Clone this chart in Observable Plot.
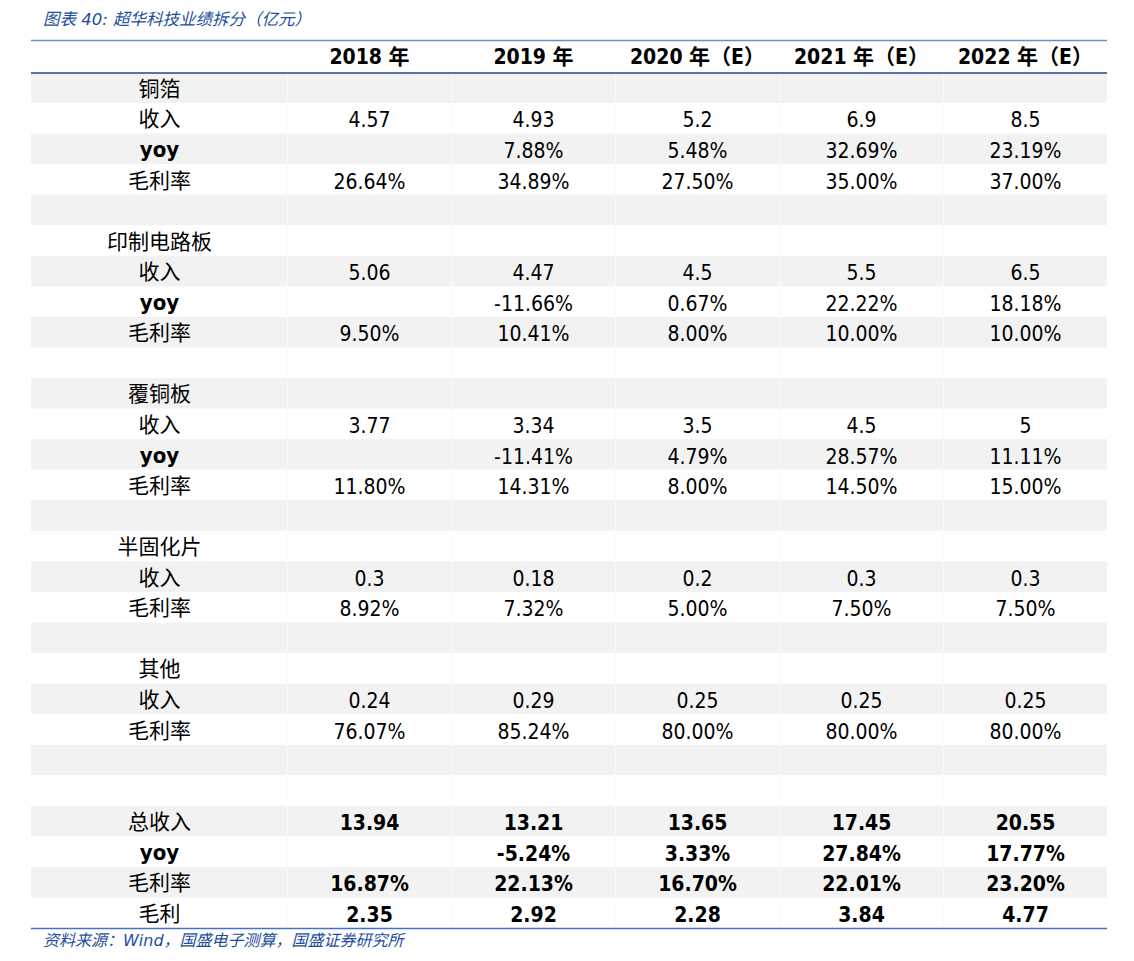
<!DOCTYPE html>
<html><head><meta charset="utf-8">
<script src="https://cdn.jsdelivr.net/npm/d3@7"></script>
<script src="https://cdn.jsdelivr.net/npm/@observablehq/plot@0.6"></script>
<style>
body{margin:0;background:#fff;}
#title{height:30px;box-sizing:border-box;padding:10px 0 0 43px;line-height:20px;font-style:italic;font-size:16.5px;font-family:"DejaVu Sans","Noto Sans CJK SC",sans-serif;color:#1f4e9e;white-space:nowrap;}
#chart svg{display:block;}
#caption{box-sizing:border-box;padding:0 0 0 43px;line-height:18px;font-style:italic;font-size:16px;font-family:"DejaVu Sans","Noto Sans CJK SC",sans-serif;color:#1f4e9e;white-space:nowrap;}
</style></head><body>
<div id="title">图表 40: 超华科技业绩拆分（亿元）</div>
<div id="chart"></div>
<div id="caption">资料来源：Wind，国盛电子测算，国盛证券研究所</div>
<script>
// ---- data ----
const years = ["2018 年", "2019 年", "2020 年（E）", "2021 年（E）", "2022 年（E）"];
const segments = ["铜箔", "印制电路板", "覆铜板", "半固化片", "其他"];
const rowLabels = {revenue: "收入", yoy: "yoy", margin: "毛利率", total: "总收入", profit: "毛利"};

const copperFoilRevenue = [4.57, 4.93, 5.2, 6.9, 8.5];
const copperFoilYoy = [null, 7.88, 5.48, 32.69, 23.19];
const copperFoilMargin = [26.64, 34.89, 27.50, 35.00, 37.00];

const pcbRevenue = [5.06, 4.47, 4.5, 5.5, 6.5];
const pcbYoy = [null, -11.66, 0.67, 22.22, 18.18];
const pcbMargin = [9.50, 10.41, 8.00, 10.00, 10.00];

const cclRevenue = [3.77, 3.34, 3.5, 4.5, 5];
const cclYoy = [null, -11.41, 4.79, 28.57, 11.11];
const cclMargin = [11.80, 14.31, 8.00, 14.50, 15.00];

const prepregRevenue = [0.3, 0.18, 0.2, 0.3, 0.3];
const prepregMargin = [8.92, 7.32, 5.00, 7.50, 7.50];

const otherRevenue = [0.24, 0.29, 0.25, 0.25, 0.25];
const otherMargin = [76.07, 85.24, 80.00, 80.00, 80.00];

const totalRevenue = [13.94, 13.21, 13.65, 17.45, 20.55];
const totalYoy = [null, -5.24, 3.33, 27.84, 17.77];
const totalMargin = [16.87, 22.13, 16.70, 22.01, 23.20];
const grossProfit = [2.35, 2.92, 2.28, 3.84, 4.77];

// ---- table layout ----
const labelUnits = 256 / 164;           // label column width in data-column units
const totalUnits = labelUnits + years.length;
const headerTop = -0.06;                // header row is slightly taller than body rows
const pct = v => v == null ? "" : v.toFixed(2) + "%";
const num = v => v == null ? "" : String(v);
const fix2 = v => v == null ? "" : v.toFixed(2);

const rows = [];
function addRow(label, values, opts = {}) { rows.push({label, values, labelBold: !!opts.labelBold, bold: !!opts.bold}); }
const segData = [
  [copperFoilRevenue, copperFoilYoy, copperFoilMargin],
  [pcbRevenue, pcbYoy, pcbMargin],
  [cclRevenue, cclYoy, cclMargin],
  [prepregRevenue, null, prepregMargin],
  [otherRevenue, null, otherMargin]
];
segments.forEach((s, i) => {
  const [rev, yoy, mar] = segData[i];
  addRow(s, []);
  addRow(rowLabels.revenue, rev.map(num));
  if (yoy) addRow(rowLabels.yoy, yoy.map(pct), {labelBold: true});
  addRow(rowLabels.margin, mar.map(pct));
  addRow("", []);
});
addRow("", []);
addRow(rowLabels.total, totalRevenue.map(fix2), {bold: true});
addRow(rowLabels.yoy, totalYoy.map(pct), {bold: true, labelBold: true});
addRow(rowLabels.margin, totalMargin.map(pct), {bold: true});
addRow(rowLabels.profit, grossProfit.map(fix2), {bold: true});

const nRows = rows.length + 1; // + header
const rowItems = rows.map((r, i) => ({...r, row: i + 1}));
const shaded = rowItems.filter(r => r.row % 2 === 1);

const cells = [];
rowItems.forEach(r => r.values.forEach((t, j) => { if (t) cells.push({row: r.row, x: labelUnits + j + 0.5, text: t, bold: r.bold}); }));
const headerCells = years.map((y, j) => ({x: labelUnits + j + 0.5, text: y}));
const labelCells = rowItems.filter(r => r.label).map(r => ({row: r.row, x: labelUnits / 2, text: r.label, bold: r.labelBold}));
const colEdges = d3.range(years.length).map(j => labelUnits + j);

const latin = '"DejaVu Sans Condensed", "Noto Sans CJK SC", sans-serif';
const cjk = '"Noto Sans CJK SC", sans-serif';

const chart = Plot.plot({
  width: 1134,
  height: 902,
  marginLeft: 31,
  marginRight: 27,
  marginTop: 10,
  marginBottom: 4,
  x: {domain: [0, totalUnits], axis: null},
  y: {domain: [headerTop, nRows], range: [10, 898], axis: null},
  marks: [
    Plot.rect(shaded, {x1: 0, x2: totalUnits, y1: d => d.row, y2: d => d.row + 1, fill: "#f2f2f2"}),
    Plot.ruleX(colEdges, {x: d => d, y1: 1, y2: nRows, stroke: "#f9f9f9", strokeWidth: 1}),
    Plot.text(headerCells, {x: "x", y: (headerTop + 1) / 2, text: "text", fontFamily: latin, fontWeight: "bold", fontSize: 21, fill: "#000", dy: 1}),
    Plot.text(cells.filter(d => !d.bold), {x: "x", y: d => d.row + 0.5, text: "text", fontFamily: latin, fontSize: 21, fill: "#000", dy: 2}),
    Plot.text(cells.filter(d => d.bold), {x: "x", y: d => d.row + 0.5, text: "text", fontFamily: latin, fontWeight: "bold", fontSize: 21, fill: "#000", dy: 2}),
    Plot.text(labelCells.filter(d => !d.bold), {x: "x", y: d => d.row + 0.5, text: "text", fontFamily: cjk, fontSize: 21, fill: "#000", dy: 1}),
    Plot.text(labelCells.filter(d => d.bold), {x: "x", y: d => d.row + 0.5, text: "text", fontFamily: latin, fontWeight: "bold", fontSize: 22, fill: "#000", dy: 1}),
    Plot.ruleY([headerTop], {x1: 0, x2: totalUnits, stroke: "#6a8fc8", strokeWidth: 1.5}),
    Plot.ruleY([1], {x1: 0, x2: totalUnits, stroke: "#24448a", strokeWidth: 1.5}),
    Plot.ruleY([nRows], {x1: 0, x2: totalUnits, stroke: "#4472c4", strokeWidth: 1.5})
  ]
});
document.getElementById("chart").appendChild(chart);
</script>
</body></html>
